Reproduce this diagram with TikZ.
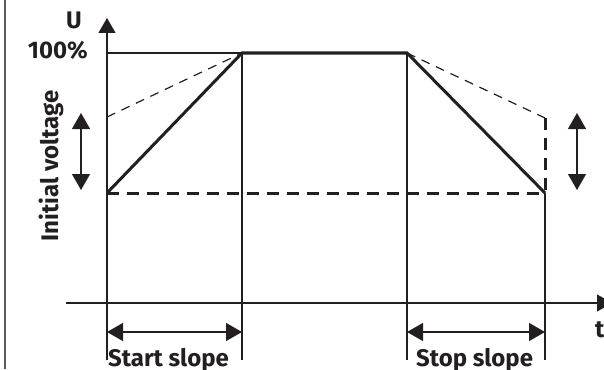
\documentclass[tikz,border=0pt]{standalone}
\usepackage{fontspec}
\setmainfont{Fira Sans}
\usetikzlibrary{arrows.meta}
\definecolor{ink}{HTML}{231F20}
\definecolor{edge}{HTML}{5A5A5A}
\begin{document}
\begin{tikzpicture}[x=1pt,y=-1pt,
  thinline/.style={line width=1.2pt, draw=ink},
  thickline/.style={line width=3pt, draw=ink},
  thindash/.style={line width=1.2pt, draw=ink, dash pattern=on 9pt off 7pt},
  thickdash/.style={line width=3pt, draw=ink, dash pattern=on 12pt off 8pt},
  axis/.style={line width=1.2pt, draw=ink, -{Triangle[length=15pt,width=17pt]}},
  dbl/.style={line width=1.3pt, draw=ink, {Triangle[length=16pt,width=18pt]}-{Triangle[length=16pt,width=18pt]}},
  lbl/.style={font=\fontsize{24}{29}\selectfont\bfseries, text=ink, inner sep=0pt}
]
\useasboundingbox (0,0) rectangle (604,369);
\clip (0,0) rectangle (604,369);
% coordinates
\coordinate (ytop) at (107,18);
\coordinate (ybot) at (107,360);
\coordinate (xl) at (66,303);
\coordinate (xr) at (612,303);
\coordinate (A) at (107,193);
\coordinate (B) at (242,53);
\coordinate (C) at (407,53);
\coordinate (D) at (545,193);
\coordinate (P) at (107,53);
\coordinate (Q) at (107,117);
\coordinate (R) at (545,118);
\coordinate (Bb) at (242,360);
\coordinate (Cb) at (407,360);
\coordinate (Db) at (545,360);
\coordinate (la1) at (81,113);
\coordinate (la2) at (81,190);
\coordinate (ra1) at (577,113);
\coordinate (ra2) at (577,190);
\coordinate (sa1) at (107,332);
\coordinate (sa2) at (242,332);
\coordinate (ta1) at (407,332);
\coordinate (ta2) at (545,332);
\coordinate (e1) at (5,0);
\coordinate (e2) at (5,369);
% left edge line
\draw[line width=2pt, draw=edge] (e1) -- (e2);
% axes
\draw[axis] (ybot) -- (ytop);
\draw[axis] (xl) -- (xr);
% guides
\draw[thinline] (P) -- (B);
\draw[thinline] (B) -- (Bb);
\draw[thinline] (C) -- (Cb);
\draw[thinline] (D) -- (Db);
% dashed
\draw[thickdash] (A) -- (D);
\draw[thickdash] (R) -- (D);
\draw[thindash] (Q) -- (B);
\draw[thindash] (C) -- (R);
% profile
\draw[thickline] (A) -- (B) -- (C) -- (D);
% double arrows
\draw[dbl] (la1) -- (la2);
\draw[dbl] (ra1) -- (ra2);
\draw[dbl] (sa1) -- (sa2);
\draw[dbl] (ta1) -- (ta2);
% labels
\node[lbl, anchor=base] (U) at (74,29) {U};
\node[lbl, anchor=base east] (hundred) at (88,59) {100\%};
\node[lbl, anchor=base, rotate=90] (init) at (58,166) {Initial voltage};
\node[lbl, anchor=base west] (start) at (108,366) {Start slope};
\node[lbl, anchor=base west] (stop) at (416,366) {Stop slope};
\node[lbl, anchor=base west] (t) at (595,337) {t};
\end{tikzpicture}
\end{document}
